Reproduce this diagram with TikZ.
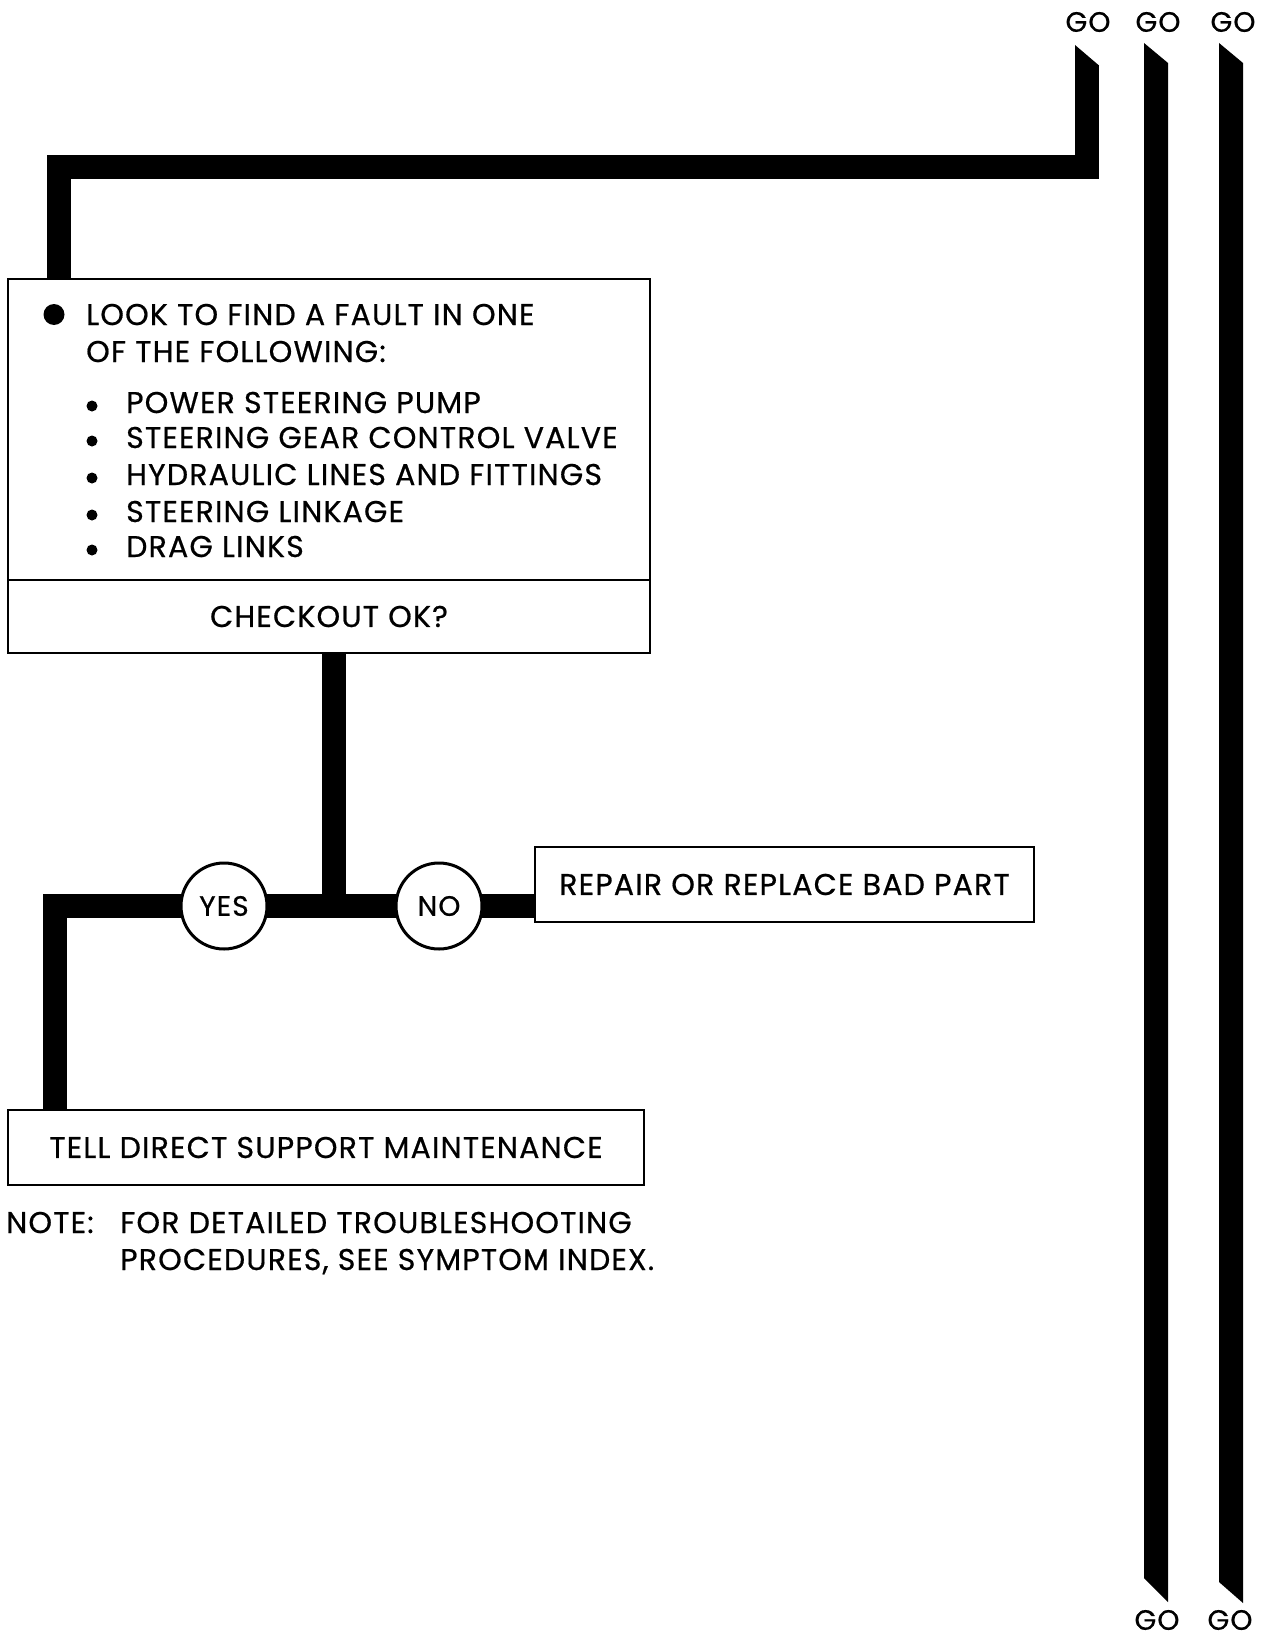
\documentclass[tikz,border=0pt]{standalone}
\usepackage{fontspec}
\setmainfont{Poppins}[LetterSpace=4, FakeBold=0.6]
\usetikzlibrary{positioning,calc,backgrounds}

\tikzset{
  flow/.style={line width=24pt},
  box/.style={draw, line width=2.5pt, inner sep=0pt, font=\fontsize{30}{36}\selectfont},
  ans/.style={circle, draw, fill=white, line width=3pt, minimum size=86pt, inner sep=0pt,
    font=\fontsize{28}{28}\selectfont},
  txt/.style={anchor=base west, inner sep=0pt, font=\fontsize{30}{36}\selectfont},
  golbl/.style={inner sep=0pt, font=\fontsize{28}{28}\selectfont},
}

\begin{document}
\begin{tikzpicture}[x=1pt,y=-1pt]
  \useasboundingbox (0,0) rectangle (1262,1637);
  % Boxes
  \node[box, minimum width=642pt, minimum height=301pt] (look) at (329,429.5) {};
  \node[box, minimum width=642pt, minimum height=73pt] (chk) at (329,616.5) {CHECKOUT OK?};
  \node[box, minimum width=499pt, minimum height=75pt] (rep) at (784.5,884.5) {REPAIR OR REPLACE BAD PART};
  \node[box, minimum width=636pt, minimum height=75pt] (tell) at (326,1147.5) {TELL DIRECT SUPPORT MAINTENANCE};
  % Text in the first box
  \fill (54,314.5) circle (10.5pt);
  \node[txt] (t1) at (86,325) {LOOK TO FIND A FAULT IN ONE};
  \node[txt] (t2) at (86,362) {OF THE FOLLOWING:};
  \foreach \y/\lbl in {413/POWER STEERING PUMP, 448/STEERING GEAR CONTROL VALVE,
      485/HYDRAULIC LINES AND FITTINGS, 522/STEERING LINKAGE, 557/DRAG LINKS} {
    \fill (92,\y-7) circle (5.5pt);
    \node[txt] at (126,\y) {\lbl};
  }
  % Answers
  \node[ans] (yes) at (224,906) {YES};
  \node[ans] (no) at (439,906) {NO};
  \coordinate (jn) at (334,906);
  \coordinate (corner) at (55,906);
  \begin{scope}[on background layer]
    \draw[flow] (chk.south -| jn) -- (jn);
    \draw[flow] (rep.west |- jn) -- (corner) -- (tell.north -| corner);
  \end{scope}
  % GO labels
  \node[golbl] (goa) at (1088,22) {GO};
  \node[golbl] (gob) at (1158,22) {GO};
  \node[golbl] (goc) at (1233,22) {GO};
  \node[golbl] (god) at (1157,1620) {GO};
  \node[golbl] (goe) at (1230,1620) {GO};
  % Lanes
  \coordinate (laneA) at (1087,65);
  \draw[flow] (laneA) |- (59,167) -- (look.north -| 59,0);
  \fill (1075,45) -- (1099,65.5) -- (1075,65.5) -- cycle;
  \fill (1144,43) -- (1168,63) -- (1168,1602) -- (1144,1578) -- cycle;
  \fill (1219,43) -- (1243,63) -- (1243,1603) -- (1219,1582) -- cycle;
  % Note
  \node[txt] (note) at (6,1233) {NOTE:};
  \node[txt] (n1) at (120,1233) {FOR DETAILED TROUBLESHOOTING};
  \node[txt] (n2) at (120,1270) {PROCEDURES, SEE SYMPTOM INDEX.};
\end{tikzpicture}
\end{document}
